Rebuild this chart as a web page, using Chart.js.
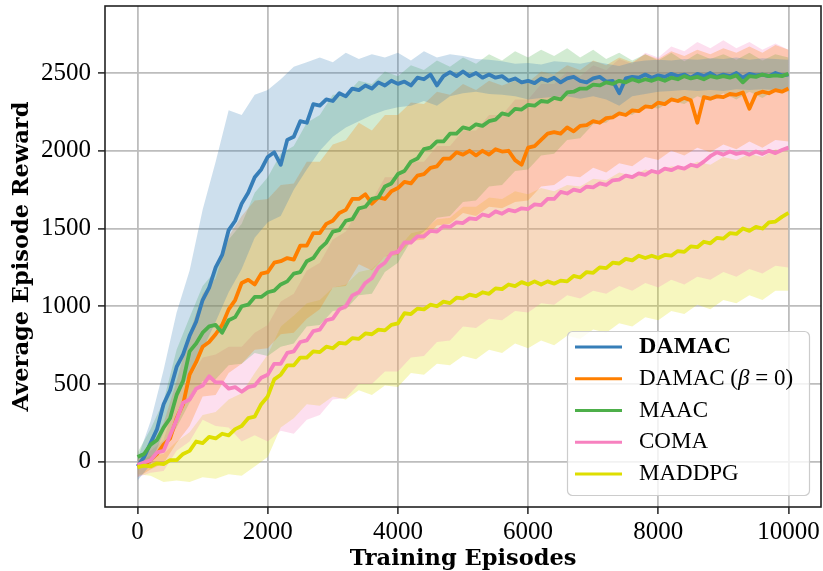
<!DOCTYPE html>
<html>
<head>
<meta charset="utf-8">
<title>Average Episode Reward</title>
<script src="https://cdn.jsdelivr.net/npm/chart.js@4.4.1/dist/chart.umd.min.js"></script>
<style>
    html, body { margin: 0; padding: 0; background: #ffffff; }
    #rewardChart { display: block; }
</style>
</head>
<body>
<canvas id="rewardChart" width="823" height="571"></canvas>
<script>
// ======================================================
// Data
// ======================================================
const seriesNames = ['DAMAC', 'DAMAC (β = 0)', 'MAAC', 'COMA', 'MADDPG'];
const seriesColors = ['#377eb8', '#ff7f00', '#4daf4a', '#f781bf', '#dede00'];
const xTicks = [0, 2000, 4000, 6000, 8000, 10000];
const yTicks = [0, 500, 1000, 1500, 2000, 2500];

// mean curves, one value every 100 episodes (0 .. 10000)
const lineEpisodes = Array.from({ length: 101 }, (_, i) => i * 100);
// bands, one value every 200 episodes (0 .. 10000)
const bandEpisodes = Array.from({ length: 51 }, (_, i) => i * 200);

const damac = [
    -30, 30, 120, 210, 370, 460, 610, 690, 810, 900,
    1040, 1120, 1250, 1330, 1490, 1550, 1660, 1730, 1830, 1880,
    1960, 1990, 1910, 2070, 2090, 2190, 2180, 2300, 2290, 2330,
    2320, 2370, 2350, 2400, 2390, 2420, 2400, 2440, 2420, 2450,
    2430, 2445, 2420, 2470, 2460, 2490, 2420, 2480, 2505, 2480,
    2510, 2480, 2500, 2470, 2490, 2470, 2480, 2450, 2465, 2440,
    2450, 2435, 2465, 2450, 2470, 2440, 2465, 2475, 2450, 2440,
    2465, 2475, 2445, 2450, 2370, 2465, 2475, 2470, 2490, 2470,
    2485, 2475, 2495, 2480, 2490, 2470, 2495, 2480, 2500, 2475,
    2490, 2480, 2500, 2470, 2495, 2485, 2490, 2480, 2500, 2485,
    2490
];
const damacBeta0 = [
    -30, -20, 10, 50, 110, 150, 280, 370, 560, 640,
    740, 770, 820, 880, 980, 1040, 1150, 1170, 1140, 1210,
    1220, 1280, 1290, 1310, 1300, 1390, 1390, 1470, 1470, 1530,
    1550, 1600, 1620, 1690, 1690, 1720, 1660, 1700, 1690, 1740,
    1760, 1800, 1790, 1840, 1850, 1890, 1900, 1950, 1950, 1990,
    1975, 2000, 1970, 2000, 1975, 2010, 1995, 2000, 1940, 1910,
    2020, 2030, 2070, 2110, 2120, 2110, 2150, 2125, 2160, 2165,
    2190, 2180, 2210, 2215, 2240, 2230, 2260, 2255, 2285, 2280,
    2310, 2300, 2330, 2320, 2340, 2325, 2180, 2345, 2335, 2350,
    2345, 2365, 2360, 2375, 2270, 2365, 2380, 2370, 2390, 2380,
    2400
];
const maac = [
    30, 50, 110, 140, 220, 280, 430, 520, 710, 760,
    830, 870, 880, 830, 910, 930, 1000, 1010, 1060, 1060,
    1090, 1100, 1140, 1160, 1210, 1220, 1290, 1310, 1370, 1410,
    1480, 1490, 1550, 1560, 1630, 1640, 1690, 1700, 1770, 1790,
    1850, 1870, 1930, 1950, 2010, 2020, 2060, 2060, 2110, 2110,
    2150, 2140, 2170, 2160, 2190, 2200, 2240, 2230, 2270, 2265,
    2295, 2290, 2320, 2315, 2340, 2330, 2375, 2380, 2400, 2400,
    2425, 2420, 2440, 2430, 2450, 2440, 2460, 2445, 2460, 2450,
    2465, 2450, 2470, 2460, 2480, 2465, 2475, 2460, 2480, 2470,
    2480, 2470, 2485, 2440, 2480, 2475, 2490, 2480, 2485, 2480,
    2495
];
const coma = [
    -20, -5, 10, 60, 70, 170, 270, 380, 400, 470,
    490, 550, 510, 510, 470, 480, 450, 480, 490, 540,
    560, 630, 630, 700, 710, 770, 780, 840, 850, 910,
    920, 980, 1000, 1070, 1090, 1150, 1180, 1250, 1280, 1340,
    1350, 1410, 1410, 1450, 1450, 1485, 1480, 1515, 1510, 1540,
    1535, 1565, 1560, 1590, 1580, 1610, 1595, 1620, 1610, 1630,
    1625, 1655, 1650, 1690, 1690, 1735, 1725, 1750, 1740, 1770,
    1765, 1790, 1780, 1810, 1815, 1840, 1830, 1855, 1845, 1870,
    1860, 1885, 1875, 1895, 1885, 1910, 1900, 1930, 1965, 1990,
    1975, 1995, 1980, 1990, 1975, 1995, 1980, 2000, 1985, 2005,
    2020
];
const maddpg = [
    -35, -25, -30, -10, -15, 10, 10, 50, 70, 130,
    120, 160, 150, 180, 170, 210, 230, 280, 290, 370,
    420, 530, 560, 620, 620, 670, 670, 710, 705, 740,
    730, 765, 760, 795, 790, 825, 820, 850, 845, 880,
    890, 955, 950, 985, 980, 1010, 1000, 1030, 1020, 1055,
    1050, 1075, 1065, 1090, 1080, 1115, 1110, 1140, 1130, 1155,
    1140, 1160, 1140, 1160, 1145, 1165, 1160, 1195, 1185, 1220,
    1215, 1250, 1245, 1280, 1275, 1305, 1295, 1325, 1310, 1325,
    1310, 1330, 1325, 1355, 1350, 1385, 1380, 1415, 1405, 1440,
    1435, 1470, 1465, 1500, 1485, 1510, 1500, 1540, 1545, 1575,
    1600
];

const damacUpper = [
    20, 260, 590, 960, 1230, 1620, 1930, 2260, 2230, 2360,
    2390, 2460, 2540, 2570, 2600, 2570, 2630, 2590, 2620, 2600,
    2630, 2580, 2640, 2600, 2620, 2610, 2590, 2585, 2575, 2560,
    2565, 2555, 2575, 2570, 2560, 2575, 2560, 2545, 2570, 2580,
    2585, 2580, 2590, 2585, 2595, 2590, 2600, 2585, 2595, 2590,
    2585
];
const damacLower = [
    -120, -20, 190, 400, 570, 720, 900, 1090, 1240, 1440,
    1540, 1580, 1750, 1880, 2000, 2090, 2150, 2190, 2230, 2260,
    2280, 2290, 2320, 2290, 2350, 2370, 2380, 2365, 2360, 2350,
    2330, 2340, 2345, 2350, 2335, 2350, 2330, 2290, 2350, 2365,
    2380, 2385, 2390, 2385, 2390, 2385, 2395, 2390, 2395, 2390,
    2395
];
const damacBeta0Upper = [
    20, 90, 250, 520, 830, 1080, 1180, 1450, 1580, 1680,
    1690, 1780, 1790, 1930, 1930, 2040, 2070, 2180, 2130, 2230,
    2230, 2310, 2300, 2380, 2360, 2430, 2390, 2450, 2420, 2450,
    2440, 2510, 2490, 2550, 2520, 2580, 2550, 2600, 2570, 2620,
    2590, 2640, 2610, 2650, 2620, 2660, 2630, 2670, 2630, 2680,
    2650
];
const damacBeta0Lower = [
    -100, -50, -10, 120, 230, 420, 430, 570, 630, 720,
    730, 820, 830, 920, 980, 1120, 1130, 1270, 1230, 1320,
    1330, 1420, 1430, 1520, 1530, 1600, 1580, 1640, 1630, 1670,
    1680, 1770, 1780, 1840, 1830, 1890, 1860, 1920, 1900, 1960,
    1940, 2000, 1970, 2020, 1990, 2040, 2010, 2060, 2020, 2070,
    2060
];
const maacUpper = [
    60, 210, 390, 720, 930, 1130, 1230, 1430, 1530, 1730,
    1830, 1980, 2030, 2180, 2230, 2360, 2360, 2450, 2430, 2510,
    2480, 2550, 2520, 2580, 2540, 2600, 2560, 2620, 2580, 2640,
    2600, 2650, 2610, 2660, 2600, 2650, 2590, 2630, 2580, 2620,
    2580, 2630, 2575, 2625, 2590, 2620, 2585, 2630, 2580, 2620,
    2600
];
const maacLower = [
    -50, 10, 70, 220, 380, 520, 530, 620, 630, 700,
    680, 740, 760, 870, 880, 970, 980, 1070, 1080, 1220,
    1280, 1420, 1480, 1570, 1580, 1670, 1680, 1770, 1780, 1870,
    1880, 1970, 1980, 2070, 2080, 2170, 2180, 2250, 2230, 2290,
    2270, 2320, 2300, 2350, 2320, 2370, 2330, 2380, 2340, 2390,
    2380
];
const comaUpper = [
    10, 70, 140, 420, 540, 670, 690, 740, 740, 830,
    880, 1030, 1080, 1230, 1280, 1430, 1480, 1630, 1680, 1830,
    1830, 1930, 1930, 2030, 2030, 2130, 2130, 2230, 2230, 2330,
    2330, 2430, 2430, 2510, 2480, 2550, 2520, 2590, 2560, 2630,
    2600, 2670, 2640, 2700, 2660, 2710, 2660, 2700, 2650, 2690,
    2650
];
const comaLower = [
    -100, -70, -60, 70, 130, 270, 230, 220, 130, 170,
    130, 200, 180, 270, 300, 400, 410, 500, 500, 580,
    580, 670, 680, 770, 780, 870, 860, 920, 910, 970,
    960, 1020, 1010, 1070, 1050, 1100, 1080, 1130, 1100, 1150,
    1120, 1170, 1140, 1190, 1170, 1220, 1190, 1240, 1210, 1260,
    1250
];
const maddpgUpper = [
    0, 40, 50, 130, 190, 300, 320, 400, 440, 570,
    690, 870, 940, 1020, 1040, 1120, 1140, 1220, 1240, 1320,
    1370, 1470, 1490, 1560, 1570, 1640, 1640, 1700, 1690, 1740,
    1720, 1760, 1740, 1780, 1770, 1820, 1810, 1860, 1840, 1880,
    1860, 1900, 1890, 1930, 1910, 1960, 1940, 1980, 1960, 2010,
    2000
];
const maddpgLower = [
    -80, -90, -130, -120, -130, -100, -110, -80, -90, -30,
    30, 220, 280, 370, 360, 420, 400, 460, 430, 490,
    480, 570, 560, 630, 620, 680, 660, 720, 700, 760,
    730, 780, 750, 810, 790, 850, 830, 890, 870, 930,
    910, 970, 950, 1010, 980, 1040, 1020, 1070, 1040, 1100,
    1100
];

const seriesMeans = [damac, damacBeta0, maac, coma, maddpg];
const seriesUpper = [damacUpper, damacBeta0Upper, maacUpper, comaUpper, maddpgUpper];
const seriesLower = [damacLower, damacBeta0Lower, maacLower, comaLower, maddpgLower];

// ======================================================
// Helpers
// ======================================================
const TICK_FONT = "'Liberation Serif', 'DejaVu Serif', serif";
const TITLE_FONT = "'DejaVu Serif', 'Liberation Serif', serif";

function toPoints(xs, ys) {
    return ys.map((y, i) => ({ x: xs[i], y: y }));
}

function withAlpha(hex, a) {
    const n = parseInt(hex.slice(1), 16);
    return 'rgba(' + ((n >> 16) & 255) + ',' + ((n >> 8) & 255) + ',' + (n & 255) + ',' + a + ')';
}

// ======================================================
// Datasets: mean lines first (0..4), then upper/lower band pairs
// ======================================================
const datasets = [];
seriesNames.forEach((name, i) => {
    datasets.push({
        label: name,
        data: toPoints(lineEpisodes, seriesMeans[i]),
        borderColor: seriesColors[i],
        borderWidth: 3.8,
        borderJoinStyle: 'round',
        pointRadius: 0,
        fill: false,
        tension: 0,
        order: seriesNames.length - i
    });
});
seriesNames.forEach((name, i) => {
    const upperIndex = datasets.length;
    datasets.push({
        label: name + ' upper',
        data: toPoints(bandEpisodes, seriesUpper[i]),
        borderColor: 'transparent',
        borderWidth: 0,
        pointRadius: 0,
        fill: false,
        order: 20 + i
    });
    datasets.push({
        label: name + ' lower',
        data: toPoints(bandEpisodes, seriesLower[i]),
        borderColor: 'transparent',
        borderWidth: 0,
        pointRadius: 0,
        backgroundColor: withAlpha(seriesColors[i], 0.25),
        fill: upperIndex,
        order: 20 + i
    });
});

// ======================================================
// Plugins: axes frame + boxed legend
// ======================================================
const framePlugin = {
    id: 'axesFrame',
    afterDatasetsDraw(chart) {
        const { ctx, chartArea: a } = chart;
        ctx.save();
        ctx.strokeStyle = '#222222';
        ctx.lineWidth = 1.6;
        ctx.strokeRect(a.left, a.top, a.right - a.left, a.bottom - a.top);
        ctx.restore();
    }
};

const boxLegendPlugin = {
    id: 'boxLegend',
    afterDraw(chart) {
        const { ctx, chartArea: a } = chart;
        const w = 242, h = 164;
        const x0 = a.right - 12 - w;
        const y0 = a.bottom - 12 - h;
        ctx.save();
        ctx.beginPath();
        ctx.roundRect(x0 + 0.5, y0 + 0.5, w, h, 5);
        ctx.fillStyle = 'rgba(255,255,255,0.8)';
        ctx.fill();
        ctx.strokeStyle = '#cccccc';
        ctx.lineWidth = 1.2;
        ctx.stroke();

        seriesNames.forEach((name, i) => {
            const y = y0 + 16 + i * 31.75;
            ctx.beginPath();
            ctx.moveTo(x0 + 8, y);
            ctx.lineTo(x0 + 55, y);
            ctx.strokeStyle = seriesColors[i];
            ctx.lineWidth = 3.2;
            ctx.stroke();

            ctx.fillStyle = '#000000';
            ctx.textBaseline = 'middle';
            ctx.textAlign = 'left';
            let tx = x0 + 72;
            const weight = i === 0 ? 'bold 24px ' : '23px ';
            // beta is set in italic as in the math text of the original
            const parts = name.split('β');
            parts.forEach((part, k) => {
                ctx.font = weight + TICK_FONT;
                ctx.fillText(part, tx, y);
                tx += ctx.measureText(part).width;
                if (k < parts.length - 1) {
                    ctx.font = 'italic ' + weight + TICK_FONT;
                    ctx.fillText('β', tx, y);
                    tx += ctx.measureText('β').width;
                }
            });
        });
        ctx.restore();
    }
};

// ======================================================
// Chart
// ======================================================
const ctx = document.getElementById('rewardChart').getContext('2d');
new Chart(ctx, {
    type: 'line',
    data: { datasets: datasets },
    options: {
        responsive: false,
        animation: false,
        events: [],
        layout: { padding: { top: 6, right: 2, left: 0, bottom: 0 } },
        plugins: {
            legend: { display: false },
            tooltip: { enabled: false },
            filler: { drawTime: 'beforeDatasetsDraw', propagate: false }
        },
        scales: {
            x: {
                type: 'linear',
                min: -500,
                max: 10500,
                afterBuildTicks: (scale) => { scale.ticks = xTicks.map(v => ({ value: v })); },
                afterFit: (scale) => {
                    scale.height = 64;
                    scale.paddingLeft = 0;
                    scale.paddingRight = 0;
                },
                ticks: {
                    color: '#000000',
                    font: { family: TICK_FONT, size: 25 },
                    padding: 3,
                    maxRotation: 0,
                    autoSkip: false,
                    callback: (v) => String(v)
                },
                grid: {
                    color: '#bdbdbd',
                    lineWidth: 1.8,
                    tickColor: '#222222',
                    tickLength: 7,
                    tickWidth: 1.5
                },
                border: { display: false },
                title: {
                    display: true,
                    text: 'Training Episodes',
                    color: '#000000',
                    font: { family: TITLE_FONT, size: 22.5, weight: 'bold' },
                    padding: { top: 0, bottom: -2 }
                }
            },
            y: {
                type: 'linear',
                min: -291,
                max: 2931,
                afterBuildTicks: (scale) => { scale.ticks = yTicks.map(v => ({ value: v })); },
                afterFit: (scale) => {
                    scale.width = 105;
                    scale.paddingTop = 0;
                    scale.paddingBottom = 0;
                },
                ticks: {
                    color: '#000000',
                    font: { family: TICK_FONT, size: 25 },
                    padding: 7,
                    autoSkip: false,
                    callback: (v) => String(v)
                },
                grid: {
                    color: '#bdbdbd',
                    lineWidth: 1.8,
                    tickColor: '#222222',
                    tickLength: 7,
                    tickWidth: 1.5
                },
                border: { display: false },
                title: {
                    display: true,
                    text: 'Average Episode Reward',
                    color: '#000000',
                    font: { family: TITLE_FONT, size: 22.5, weight: 'bold' },
                    padding: { top: 8.5, bottom: 0 }
                }
            }
        }
    },
    plugins: [framePlugin, boxLegendPlugin]
});
</script>
</body>
</html>
